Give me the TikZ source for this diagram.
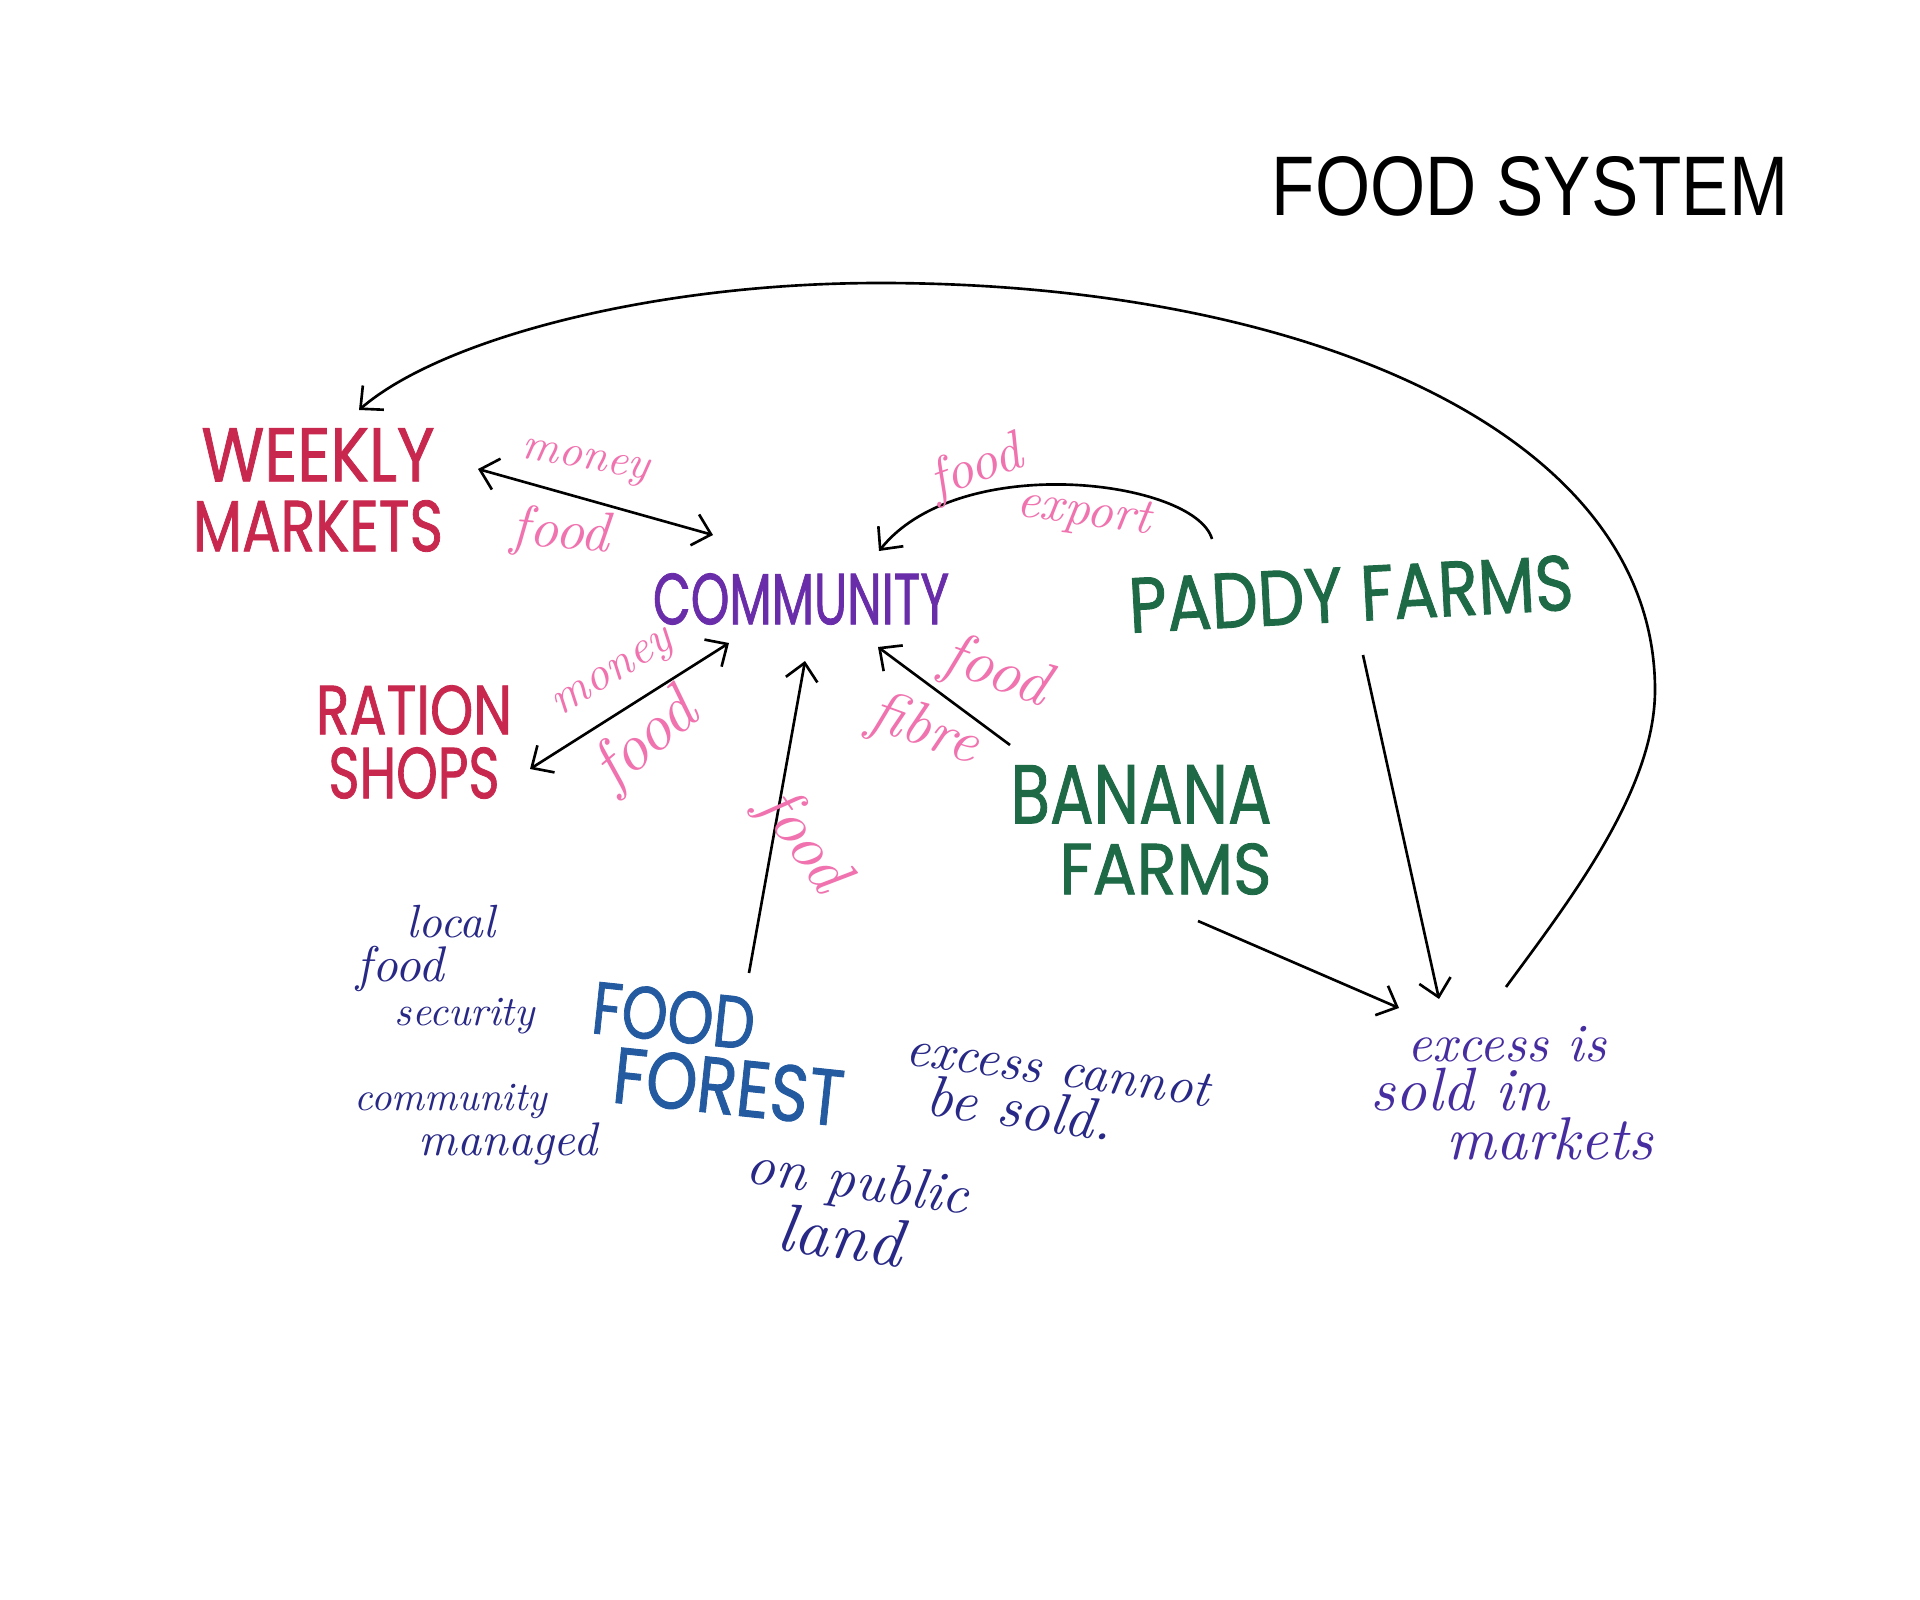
\documentclass[tikz,border=0pt]{standalone}
\usepackage{fontspec}
\usetikzlibrary{arrows.meta}
\newfontfamily\markerfont{Poppins}[FakeBold=1.2]
\newfontfamily\titlefont{Liberation Sans}
\definecolor{crim}{RGB}{200,40,78}
\definecolor{purp}{RGB}{105,45,170}
\definecolor{grn}{RGB}{30,105,70}
\definecolor{fblue}{RGB}{35,90,160}
\definecolor{pen}{RGB}{40,40,135}
\definecolor{penviolet}{RGB}{70,45,160}
\definecolor{pnk}{RGB}{240,115,175}
\newcommand\fitwh[3]{\resizebox{#1}{#2}{#3}}
\newcommand\fitw[2]{\resizebox{#1}{!}{#2}}
\begin{document}
\begin{tikzpicture}[x=0.01cm,y=-0.01cm,
  tip/.tip={Straight Barb[length=1.7mm,width=3.2mm]},
  arr/.style={draw=black,line width=0.75pt,-tip},
  darr/.style={draw=black,line width=0.75pt,tip-tip},
  mk/.style={inner sep=0pt,font=\markerfont\fontsize{10}{#1}\selectfont},
  pentext/.style={inner sep=0pt,align=left,font=\itshape\fontsize{10}{#1}\selectfont},
  lbl/.style={inner sep=0pt,text=pnk,font=\itshape}]
\useasboundingbox (0,0) rectangle (1920,1600);
\fill[white] (0,0) rectangle (1920,1600);

% title
\node[inner sep=0pt,font=\titlefont] (title) at (1530,186) {\fitwh{5.16cm}{0.59cm}{FOOD SYSTEM}};

% main nodes
\node[mk=19.9pt,align=center,text=crim] (weekly) at (318,490)
  {\fitwh{2.33cm}{0.53cm}{WEEKLY}\\\fitwh{2.50cm}{0.51cm}{MARKETS}};
\node[mk=12pt,text=purp] (comm) at (801,599) {\fitwh{2.96cm}{0.51cm}{COMMUNITY}};
\node[mk=12pt,text=grn,rotate=3] (paddy) at (1351,594) {\fitwh{4.45cm}{0.55cm}{PADDY FARMS}};
\node[mk=18.2pt,align=center,text=crim] (ration) at (414,742)
  {\fitwh{1.96cm}{0.49cm}{RATION}\\\fitwh{1.71cm}{0.51cm}{SHOPS}};
\node[mk=20.2pt,align=right,text=grn] (banana) at (1141,830)
  {\fitwh{2.61cm}{0.58cm}{BANANA}\\\fitwh{2.12cm}{0.51cm}{FARMS}};
\node[mk=19pt,align=left,text=fblue,rotate=-6] (forest) at (718,1054)
  {\fitwh{1.63cm}{0.52cm}{FOOD}\\\hspace*{0.28cm}\fitwh{2.31cm}{0.56cm}{FOREST}};
\node[pentext=14pt,text=penviolet] (excess) at (1512,1093)
  {\hspace*{0.37cm}\fitw{1.98cm}{excess is}\\\fitw{1.78cm}{sold in}\\\hspace*{0.76cm}\fitw{2.06cm}{markets}};

% pen notes
\node[pentext=12.5pt,text=pen] (security) at (446,970)
  {\hspace*{0.50cm}\fitw{0.88cm}{local}\\\fitw{0.87cm}{food}\\\hspace*{0.38cm}\fitw{1.40cm}{security}};
\node[pentext=12.8pt,text=pen] (managed) at (476,1125)
  {\fitw{1.92cm}{community}\\\hspace*{0.64cm}\fitw{1.78cm}{managed}};
\node[pentext=13.5pt,text=pen,rotate=-8] (cannot) at (1055,1093)
  {\fitw{3.06cm}{excess cannot}\\\hspace*{0.27cm}\fitw{1.87cm}{be sold.}};
\node[pentext=14pt,text=pen,rotate=-8] (public) at (854,1210)
  {\fitw{2.24cm}{on public}\\\hspace*{0.40cm}\fitw{1.25cm}{land}};

% connectors
\draw[darr] ([shift={(160,-21)}]weekly.center) -- ([shift={(-88,-64)}]comm.center);
\draw[arr] ([shift={(-139,-55)}]paddy.center) .. controls (1195,480) and (960,450) .. ([shift={(78,-48)}]comm.center);
\draw[darr] ([shift={(-72,44)}]comm.center) -- ([shift={(116,27)}]ration.center);
\draw[arr] ([shift={(31,-81)}]forest.center) -- ([shift={(4,62)}]comm.center);
\draw[arr] ([shift={(-131,-85)}]banana.center) -- ([shift={(77,48)}]comm.center);
\draw[arr] ([shift={(12,61)}]paddy.center) -- ([shift={(-73,-94)}]excess.center);
\draw[arr] ([shift={(57,91)}]banana.center) -- ([shift={(-113,-85)}]excess.center);
\draw[arr] ([shift={(-6,-106)}]excess.center) .. controls (1570,900) and (1655,790) .. (1655,690)
  .. controls (1655,430) and (1300,283) .. (880,283)
  .. controls (650,283) and (440,340) .. ([shift={(41,-80)}]weekly.center);

% pink labels
\node[lbl,rotate=-10] (lmoney1) at (585,463) {\fitw{1.29cm}{money}};
\node[lbl,rotate=-5] (lfood1) at (561,534) {\fitw{0.98cm}{food}};
\node[lbl,rotate=20] (lfood2) at (976,469) {\fitw{0.95cm}{food}};
\node[lbl,rotate=-8] (lexport) at (1084,514) {\fitw{1.35cm}{export}};
\node[lbl,rotate=32] (lmoney2) at (615,676) {\fitw{1.35cm}{money}};
\node[lbl,rotate=40] (lfood3) at (647,742) {\fitw{1.15cm}{food}};
\node[lbl,rotate=-20] (lfood4) at (996,673) {\fitw{1.08cm}{food}};
\node[lbl,rotate=-20] (lfibre) at (924,731) {\fitw{1.12cm}{fibre}};
\node[lbl,rotate=-55] (lfood5) at (802,842) {\fitw{1.10cm}{food}};
\end{tikzpicture}
\end{document}
